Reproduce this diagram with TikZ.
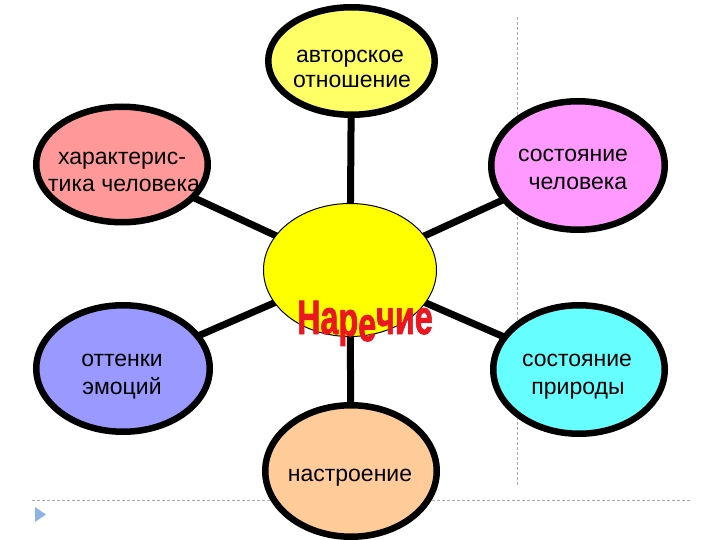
\documentclass[tikz,border=0pt]{standalone}
\usepackage{fontspec}
\setmainfont{Liberation Sans}
\newfontfamily\wordfont{Liberation Sans}[BoldFeatures={FakeBold=1.8}]
\usetikzlibrary{shapes.geometric,backgrounds}
\definecolor{cTop}{RGB}{255,255,102}
\definecolor{cMid}{RGB}{255,255,0}
\definecolor{cLpink}{RGB}{255,153,153}
\definecolor{cRpink}{RGB}{255,153,255}
\definecolor{cBlue}{RGB}{153,153,255}
\definecolor{cCyan}{RGB}{102,255,255}
\definecolor{cOrange}{RGB}{255,204,153}
\definecolor{cRed}{RGB}{236,22,32}
\definecolor{cGuide}{RGB}{170,170,170}
\definecolor{cTri}{RGB}{142,180,227}
\tikzset{
  bubble/.style 2 args={ellipse, draw=black, line width=6.5pt, inner sep=0pt,
    minimum width=#1, minimum height=#2},
  lbl/.style={anchor=base, inner sep=0pt, font=\fontsize{23}{27}\selectfont},
  conn/.style={line width=7pt, black},
  guide/.style={cGuide, line width=0.7pt, dash pattern=on 3pt off 2pt},
}
\begin{document}
\begin{tikzpicture}[x=1pt,y=-1pt]
\useasboundingbox (0,0) rectangle (720,540);
\clip (0,0) rectangle (720,540);
% guides
\coordinate (gv1) at (517,17);
\coordinate (gv2) at (517,485);
\coordinate (gh1) at (32,500);
\coordinate (gh2) at (690,500);
\draw[guide] (gv1) -- (gv2);
\draw[guide] (gh1) -- (gh2);
\fill[cTri] (35,507) -- (46,514.5) -- (35,522) -- cycle;
% bubbles
\node[bubble={166.5pt}{107.5pt}, fill=cTop] (top) at (351.5,61) {};
\node[bubble={171.5pt}{115.5pt}, fill=cLpink] (lt) at (122,164.5) {};
\node[bubble={173.5pt}{128.5pt}, fill=cRpink] (rt) at (578,165.5) {};
\node[bubble={173.5pt}{126.5pt}, fill=cBlue] (lb) at (123,368.5) {};
\node[bubble={171.5pt}{128.5pt}, fill=cCyan] (rb) at (579,369.5) {};
\node[bubble={171.5pt}{131.5pt}, fill=cOrange] (bot) at (351,471) {};
\node[ellipse, draw=black, line width=1pt, fill=cMid, inner sep=0pt,
      minimum width=173pt, minimum height=133pt] (c) at (350,270) {};
% connectors
\begin{scope}[on background layer]
\draw[conn] (c.center) -- (top.center);
\draw[conn] (c.center) -- (lt.center);
\draw[conn] (c.center) -- (rt.center);
\draw[conn] (c.center) -- (lb.center);
\draw[conn] (c.center) -- (rb.center);
\draw[conn] (c.center) -- (bot.center);
\end{scope}
% labels
\node[lbl] (t1a) at (350,63) {авторское};
\node[lbl] (t1b) at (352,88) {отношение};
\node[lbl] (t2a) at (122,165) {характерис-};
\node[lbl] (t2b) at (124,192) {тика человека};
\node[lbl] (t3a) at (573,162) {состояние};
\node[lbl] (t3b) at (578,190) {человека};
\node[lbl] (t4a) at (122,366) {оттенки};
\node[lbl] (t4b) at (122,394) {эмоций};
\node[lbl] (t5a) at (577,366) {состояние};
\node[lbl] (t5b) at (578,394) {природы};
\node[lbl] (t6) at (350,481) {настроение};
% title word
\node[anchor=base west, inner sep=0pt, text=cRed] (word) at (297,334)
  {\scalebox{0.85}[1.27]{\fontsize{38}{38}\wordfont\bfseries
   На\raisebox{-1.5pt}{р}\raisebox{-5.5pt}{е}чие}};
\end{tikzpicture}
\end{document}
